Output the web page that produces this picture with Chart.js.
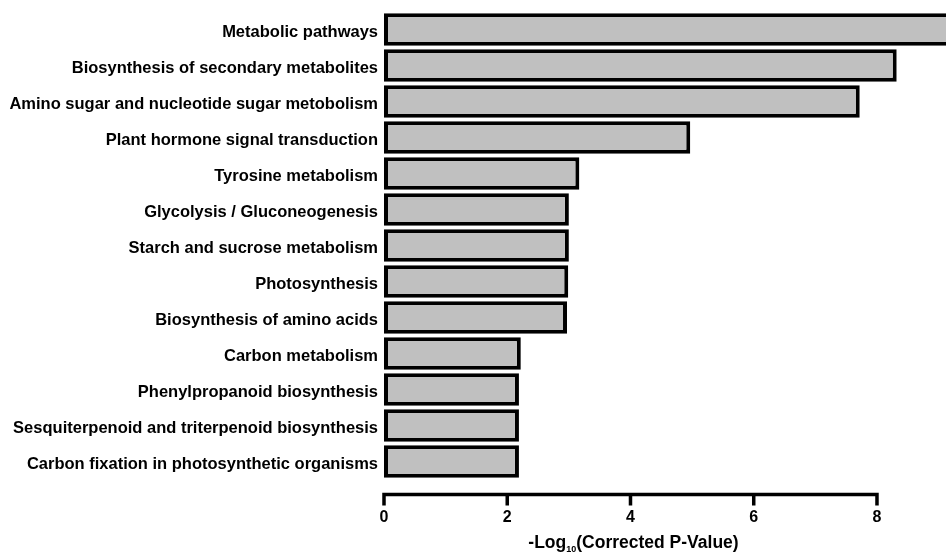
<!DOCTYPE html>
<html>
<head>
<meta charset="utf-8">
<script src="https://cdn.jsdelivr.net/npm/chart.js@4"></script>
<style>
    html, body { margin: 0; padding: 0; background: #fff; }
    #wrap { width: 946px; height: 553px; position: relative; }
</style>
</head>
<body>
<div id="wrap"><canvas id="keggChart"></canvas></div>
<script>
// KEGG pathway enrichment
const pathways = [
    "Metabolic pathways",
    "Biosynthesis of secondary metabolites",
    "Amino sugar and nucleotide sugar metobolism",
    "Plant hormone signal transduction",
    "Tyrosine metabolism",
    "Glycolysis / Gluconeogenesis",
    "Starch and sucrose metabolism",
    "Photosynthesis",
    "Biosynthesis of amino acids",
    "Carbon metabolism",
    "Phenylpropanoid biosynthesis",
    "Sesquiterpenoid and triterpenoid biosynthesis",
    "Carbon fixation in photosynthetic organisms",
];
const negLogP = [9.5, 8.32, 7.72, 4.97, 3.17, 3.0, 3.0, 2.99, 2.97, 2.22, 2.19, 2.19, 2.19];
const tickValues = [0, 2, 4, 6, 8];
const axisMax = 9.12;

const labelFont = { family: "'Liberation Sans', Arial, sans-serif", size: 16.5, weight: "bold" };
const tickFont = { family: "'Liberation Sans', Arial, sans-serif", size: 16, weight: "bold" };

// axis line with ticks below the bars + subscript title
const axisPlugin = {
    id: "axisPlugin",
    afterDraw(chart) {
        const ctx = chart.ctx;
        const xs = chart.scales.x;
        const y0 = chart.chartArea.bottom + 15;
        const first = xs.getPixelForValue(tickValues[0]);
        const last = xs.getPixelForValue(tickValues[tickValues.length - 1]);
        ctx.save();
        ctx.strokeStyle = "#000";
        ctx.lineWidth = 3.5;
        ctx.lineCap = "butt";
        ctx.beginPath();
        ctx.moveTo(first - 1.75, y0);
        ctx.lineTo(last + 1.75, y0);
        tickValues.forEach((v) => {
            const px = xs.getPixelForValue(v);
            ctx.moveTo(px, y0);
            ctx.lineTo(px, y0 + 11);
        });
        ctx.stroke();

        // title: -Log10(Corrected P-Value)
        const big = "bold 17.5px 'Liberation Sans', Arial, sans-serif";
        const small = "bold 9px 'Liberation Sans', Arial, sans-serif";
        const parts = [["-Log", big, 0], ["10", small, 4], ["(Corrected P-Value)", big, 0]];
        let total = 0;
        parts.forEach((p) => { ctx.font = p[1]; total += ctx.measureText(p[0]).width; });
        let x = (first + last) / 2 - total / 2 + 3;
        const base = 548;
        ctx.fillStyle = "#000";
        ctx.textBaseline = "alphabetic";
        ctx.textAlign = "left";
        parts.forEach((p) => {
            ctx.font = p[1];
            ctx.fillText(p[0], x, base + p[2]);
            x += ctx.measureText(p[0]).width;
        });
        ctx.restore();
    },
};

new Chart(document.getElementById("keggChart"), {
    type: "bar",
    data: {
        labels: pathways,
        datasets: [{
            data: negLogP,
            backgroundColor: "#c0c0c0",
            borderColor: "#000",
            borderWidth: 4,
            borderSkipped: false,
            barPercentage: 0.9,
            categoryPercentage: 1.0,
        }],
    },
    options: {
        indexAxis: "y",
        responsive: true,
        maintainAspectRatio: false,
        animation: false,
        layout: { padding: { top: 11.5, right: 0, bottom: 0, left: 0 } },
        plugins: { legend: { display: false }, tooltip: { enabled: false } },
        scales: {
            x: {
                type: "linear",
                min: 0,
                max: axisMax,
                afterBuildTicks: (scale) => { scale.ticks = tickValues.map((v) => ({ value: v })); },
                afterFit: (scale) => { scale.height = 73.5; scale.paddingRight = 0; },
                grid: { display: false, drawTicks: false },
                border: { display: false },
                ticks: { color: "#000", font: tickFont, padding: 28, maxRotation: 0 },
            },
            y: {
                afterFit: (scale) => {
                    scale.width = 384;
                    scale.paddingTop = 0;
                    scale.paddingBottom = 0;
                },
                grid: { display: false, drawTicks: false },
                border: { display: false },
                ticks: { color: "#000", font: labelFont, padding: 6, autoSkip: false, labelOffset: 3 },
            },
        },
    },
    plugins: [axisPlugin],
});
</script>
</body>
</html>
